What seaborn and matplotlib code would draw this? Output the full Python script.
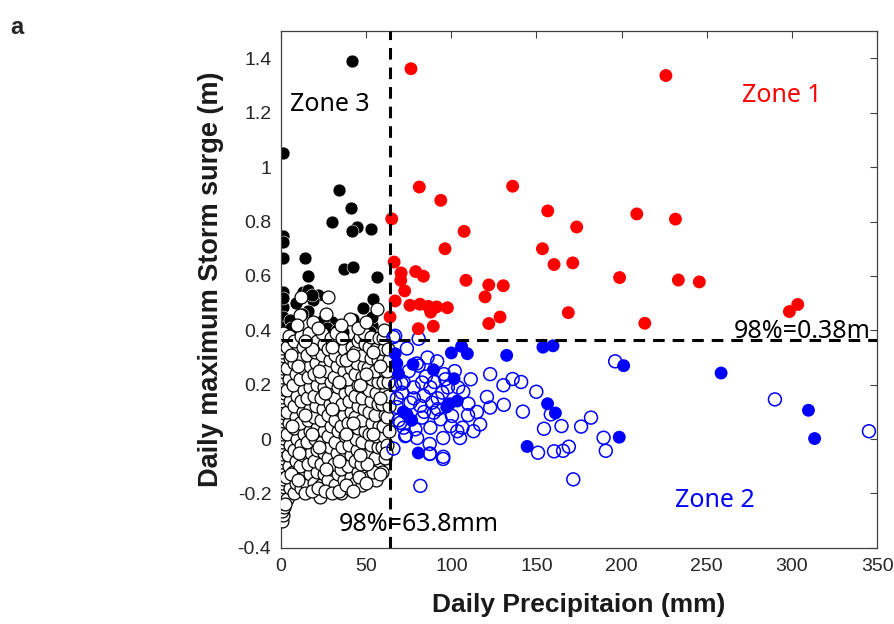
import matplotlib
matplotlib.use('Agg')
import matplotlib.pyplot as plt
import pandas as pd
import seaborn as sns
from matplotlib.ticker import FuncFormatter

# 98th percentile thresholds (as drawn)
precip_thr = 63.8
surge_thr = 0.365

# Zone 1: both above threshold (red, filled)
zone1_pts = [
    (76.3, 1.362), (226.0, 1.337), (81.2, 0.927), (93.8, 0.878), (136.0, 0.930),
    (65.0, 0.810), (107.5, 0.764), (156.6, 0.839), (173.6, 0.780), (208.9, 0.828),
    (231.6, 0.809), (96.3, 0.700), (153.5, 0.700), (66.4, 0.651), (70.5, 0.611),
    (79.1, 0.616), (83.6, 0.599), (160.3, 0.642), (171.3, 0.648), (70.3, 0.584),
    (108.6, 0.584), (198.8, 0.594), (233.3, 0.585), (245.6, 0.578), (72.6, 0.545),
    (122.0, 0.567), (130.5, 0.564), (119.8, 0.523), (67.0, 0.508), (75.7, 0.492),
    (81.6, 0.496), (86.5, 0.488), (91.4, 0.486), (97.7, 0.483), (87.9, 0.467),
    (64.0, 0.449), (168.7, 0.465), (128.6, 0.449), (122.0, 0.425), (80.6, 0.406),
    (89.4, 0.415), (213.6, 0.426), (298.5, 0.469), (303.4, 0.495),
]

# Zone 3: high surge, low rain (black, filled)
zone3_pts = [
    (41.5, 1.390), (1.0, 1.052), (34.3, 0.915), (41.1, 0.850), (29.8, 0.800),
    (44.4, 0.780), (41.5, 0.765), (52.8, 0.774), (1.0, 0.746), (1.0, 0.725),
    (1.4, 0.667), (14.1, 0.667), (15.7, 0.600), (37.0, 0.627), (42.5, 0.633),
    (56.2, 0.596), (1.4, 0.541), (13.1, 0.541), (16.0, 0.550), (21.9, 0.529),
    (19.0, 0.510), (1.4, 0.486), (53.8, 0.517), (48.0, 0.483), (1.4, 0.449),
    (29.8, 0.431), (36.2, 0.394), (53.2, 0.418), (16.0, 0.470), (12.2, 0.460),
    (24.8, 0.437), (42.5, 0.443), (1.4, 0.412), (52.0, 0.394), (5.3, 0.437),
    (1.4, 0.520), (18.0, 0.530), (9.0, 0.500), (6.0, 0.410), (27.0, 0.410),
    (33.0, 0.400), (53.4, 0.449),
]

# Zone 2: heavy rain, low surge (blue, filled)
zone2_pts = [
    (67.0, 0.314), (68.0, 0.278), (69.0, 0.240), (77.5, 0.275), (89.5, 0.255),
    (100.0, 0.317), (106.0, 0.341), (109.4, 0.314), (132.5, 0.308), (153.8, 0.338),
    (159.7, 0.343), (101.6, 0.222), (103.5, 0.140), (97.3, 0.118), (71.8, 0.100),
    (76.7, 0.069), (80.6, -0.051), (144.5, -0.027), (156.5, 0.130), (161.1, 0.096),
    (201.2, 0.270), (258.4, 0.243), (309.7, 0.106), (313.3, 0.002), (198.6, 0.007),
    (74.0, 0.090), (99.0, 0.130),
]

# heavy rain days without surge event (blue, open)
rain_open_pts = [
    (66.0, 0.375), (80.8, 0.369), (73.9, 0.333), (91.7, 0.286), (80.8, 0.270),
    (82.8, 0.208), (95.6, 0.239), (96.5, 0.220), (87.7, 0.190), (77.9, 0.190),
    (72.0, 0.210), (71.0, 0.171), (83.8, 0.159), (94.7, 0.171), (88.7, 0.134),
    (81.8, 0.122), (76.0, 0.134), (89.7, 0.097), (82.8, 0.079), (93.7, 0.073),
    (100.4, 0.085), (99.6, 0.048), (87.7, 0.042), (78.9, 0.036), (72.0, 0.042),
    (72.9, 0.011), (66.0, -0.035), (79.9, 0.004), (95.2, 0.004), (87.3, -0.018),
    (87.3, -0.055), (95.2, -0.073), (81.8, -0.172), (103.5, 0.029), (106.5, 0.042),
    (105.1, 0.004), (113.0, 0.029), (116.9, 0.054), (109.8, 0.088), (107.0, 0.174),
    (111.4, 0.220), (122.8, 0.239), (120.9, 0.155), (122.8, 0.116), (130.6, 0.198),
    (130.8, 0.126), (136.0, 0.221), (141.0, 0.210), (142.0, 0.101), (149.9, 0.174),
    (158.4, 0.091), (154.4, 0.038), (164.7, 0.048), (176.2, 0.046), (182.0, 0.079),
    (189.4, 0.005), (190.7, -0.043), (169.0, -0.028), (165.6, -0.043), (160.3, -0.045),
    (150.9, -0.050), (171.6, -0.148), (196.2, 0.286), (290.0, 0.146), (345.2, 0.029),
    (68.0, 0.150), (70.0, 0.060), (75.0, 0.250), (85.0, 0.230), (92.0, 0.150),
    (86.0, 0.300), (98.0, 0.190), (102.0, 0.250), (90.0, 0.210), (67.0, 0.200),
    (84.0, 0.100), (78.0, 0.150), (92.0, 0.110), (104.0, 0.190), (110.0, 0.130),
    (115.0, 0.100), (67.0, 0.380), (79.7, 0.278), (70.9, 0.204), (73.4, 0.014),
    (95.3, -0.065), (87.5, -0.053), (68.0, 0.118), (69.0, 0.069),
]

# ordinary days (white, open)
calm_pts = [
    (0.6, -0.30), (1.2, -0.28), (0.4, -0.265), (1.5, -0.25), (0.8, -0.235), (0.3, -0.22),
    (1.4, -0.205), (0.7, -0.19), (1.6, -0.175), (0.5, -0.16), (1.1, -0.145), (0.4, -0.13),
    (1.5, -0.115), (0.8, -0.10), (0.3, -0.085), (1.3, -0.07), (0.6, -0.055), (1.7, -0.04),
    (0.9, -0.025), (0.4, -0.01), (1.4, 0.005), (0.7, 0.02), (1.6, 0.035), (0.5, 0.05),
    (1.2, 0.065), (0.3, 0.08), (1.5, 0.095), (0.8, 0.11), (0.4, 0.125), (1.3, 0.14),
    (0.6, 0.155), (1.7, 0.17), (0.9, 0.185), (0.4, 0.20), (1.4, 0.215), (0.7, 0.23),
    (1.6, 0.245), (0.5, 0.26), (1.2, 0.275), (0.3, 0.29), (1.5, 0.305), (0.8, 0.32),
    (0.4, 0.335), (1.3, 0.35), (0.6, 0.37), (1.0, 0.39),
    (3.5, -0.22), (5.0, -0.18), (3.2, -0.14), (4.8, -0.10), (3.8, -0.06), (5.3, -0.02),
    (3.4, 0.02), (4.6, 0.06), (3.6, 0.10), (5.2, 0.14), (3.3, 0.18), (4.9, 0.22),
    (3.7, 0.26), (5.1, 0.30), (3.5, 0.34), (4.4, 0.38),
    (7.5, -0.20), (9.0, -0.16), (7.2, -0.12), (8.8, -0.08), (7.6, -0.04), (9.3, 0.00),
    (7.4, 0.04), (8.9, 0.08), (7.8, 0.12), (9.2, 0.16), (7.3, 0.20), (8.7, 0.24),
    (7.7, 0.28), (9.1, 0.32), (7.5, 0.36),
    (11.5, -0.18), (13.2, -0.14), (11.3, -0.10), (12.9, -0.06), (11.8, -0.02), (13.4, 0.02),
    (11.4, 0.06), (12.8, 0.10), (11.7, 0.14), (13.3, 0.18), (11.2, 0.22), (12.7, 0.26),
    (11.6, 0.30), (13.1, 0.34), (11.9, 0.38), (11.2, 0.455), (11.7, 0.523),
    (15.4, -0.17), (17.1, -0.13), (15.8, -0.09), (17.4, -0.05), (15.2, -0.01), (16.9, 0.03),
    (15.6, 0.07), (17.3, 0.11), (15.3, 0.15), (16.8, 0.19), (15.7, 0.23), (17.2, 0.27),
    (15.5, 0.31), (17.0, 0.35), (16.2, 0.39),
    (23.0, -0.213), (19.5, -0.16), (21.2, -0.12), (19.3, -0.08), (20.9, -0.04), (19.7, 0.00),
    (21.4, 0.04), (19.2, 0.08), (20.8, 0.12), (19.6, 0.16), (21.3, 0.20), (19.4, 0.24),
    (20.7, 0.28), (19.8, 0.32), (21.1, 0.36), (19.0, 0.43),
    (23.6, -0.17), (25.3, -0.13), (23.4, -0.09), (25.0, -0.05), (23.8, -0.01), (25.4, 0.03),
    (23.3, 0.07), (24.9, 0.11), (23.7, 0.15), (25.2, 0.19), (23.5, 0.23), (25.1, 0.27),
    (23.9, 0.31), (25.5, 0.35), (24.2, 0.39),
    (27.5, -0.15), (29.2, -0.11), (27.3, -0.07), (28.9, -0.03), (27.7, 0.01), (29.4, 0.05),
    (27.4, 0.09), (29.0, 0.13), (27.8, 0.17), (29.3, 0.21), (27.2, 0.25), (28.8, 0.29),
    (27.6, 0.33), (29.1, 0.37), (26.6, 0.46), (27.8, 0.523),
    (31.6, -0.17), (33.4, -0.13), (31.2, -0.09), (32.9, -0.05), (31.8, -0.01), (33.3, 0.03),
    (31.4, 0.07), (33.0, 0.11), (31.7, 0.15), (33.5, 0.19), (31.3, 0.23), (32.8, 0.27),
    (31.9, 0.31), (33.2, 0.35), (32.0, 0.39),
    (35.5, -0.20), (37.2, -0.15), (35.3, -0.11), (36.9, -0.07), (35.8, -0.03), (37.4, 0.01),
    (35.4, 0.05), (37.0, 0.09), (35.7, 0.13), (37.3, 0.17), (35.2, 0.21), (36.8, 0.25),
    (35.6, 0.29), (37.1, 0.33), (36.0, 0.37),
    (39.6, -0.18), (41.3, -0.14), (39.2, -0.10), (40.9, -0.06), (39.8, -0.02), (41.4, 0.02),
    (39.4, 0.06), (41.0, 0.10), (39.7, 0.14), (41.2, 0.18), (39.3, 0.22), (40.8, 0.26),
    (39.9, 0.30), (41.5, 0.34), (40.5, 0.443),
    (43.5, -0.16), (45.2, -0.12), (43.3, -0.08), (44.9, -0.04), (43.8, 0.00), (45.4, 0.04),
    (43.4, 0.08), (45.0, 0.12), (43.7, 0.16), (45.3, 0.20), (43.2, 0.24), (44.8, 0.28),
    (43.6, 0.32), (45.1, 0.36), (46.4, 0.376),
    (47.6, -0.17), (49.3, -0.13), (47.2, -0.09), (48.9, -0.05), (47.8, -0.01), (49.4, 0.03),
    (47.4, 0.07), (49.0, 0.11), (47.7, 0.15), (49.2, 0.19), (47.3, 0.23), (48.8, 0.27),
    (47.9, 0.31), (49.5, 0.35), (48.5, 0.39),
    (51.5, -0.14), (53.2, -0.10), (51.3, -0.06), (52.9, -0.02), (51.8, 0.02), (53.4, 0.06),
    (51.4, 0.10), (53.0, 0.14), (51.7, 0.18), (53.3, 0.22), (51.2, 0.26), (52.8, 0.30),
    (51.6, 0.34), (53.1, 0.375),
    (55.6, -0.15), (57.3, -0.11), (55.2, -0.07), (56.9, -0.03), (55.8, 0.01), (57.4, 0.05),
    (55.4, 0.09), (57.0, 0.13), (55.7, 0.17), (57.2, 0.21), (55.3, 0.25), (56.8, 0.29),
    (55.9, 0.33), (57.5, 0.37), (56.2, 0.48),
    (59.5, -0.12), (60.8, -0.07), (59.3, -0.03), (60.6, 0.01), (59.7, 0.05), (61.0, 0.09),
    (59.4, 0.13), (60.9, 0.17), (59.8, 0.21), (61.2, 0.25), (59.6, 0.29), (60.7, 0.33),
    (59.9, 0.37),
    (62.5, -0.02), (63.2, 0.03), (62.3, 0.08), (63.4, 0.12), (62.7, 0.16), (63.1, 0.21),
    (62.4, 0.25), (63.3, 0.29), (62.8, 0.33),
    # scattered in between
    (2.5, -0.24), (6.0, -0.13), (10.0, -0.15), (14.0, -0.20), (18.0, -0.19), (22.0, -0.18),
    (26.0, -0.19), (30.0, -0.20), (34.0, -0.19), (38.0, -0.17), (42.0, -0.19), (46.0, -0.14),
    (50.0, -0.16), (54.0, -0.12), (58.0, -0.13),
    (6.2, 0.05), (10.1, 0.27), (14.2, 0.09), (18.1, 0.33), (22.3, -0.03), (26.1, 0.17),
    (30.2, 0.11), (34.1, -0.08), (38.3, 0.29), (42.2, 0.06), (46.1, 0.20), (50.3, -0.09),
    (54.2, 0.32), (58.1, 0.15), (61.8, -0.05),
    (6.1, 0.31), (10.3, -0.05), (14.1, 0.36), (18.3, 0.02), (22.1, 0.25), (26.3, -0.11),
    (30.1, 0.34), (34.3, 0.21), (38.1, 0.02), (42.3, 0.31), (46.3, -0.06), (50.1, 0.24),
    (54.1, 0.02), (58.3, 0.27),
    (9.5, 0.42), (22.0, 0.41), (35.0, 0.42), (45.0, 0.41), (50.0, 0.43), (60.5, 0.40),
]

y_ticks = [-0.4, -0.2, 0, 0.2, 0.4, 0.6, 0.8, 1.0, 1.2, 1.4]
x_ticks = [0, 50, 100, 150, 200, 250, 300, 350]


def to_df(pts):
    return pd.DataFrame(pts, columns=['precip', 'surge'])


sns.set_theme(style='white')
plt.rcParams['font.family'] = ['Liberation Sans', 'DejaVu Sans']
plt.rcParams['axes.unicode_minus'] = False

fig = plt.figure(figsize=(8.95, 6.24), dpi=100)
ax = fig.add_axes([0.314, 0.122, 0.666, 0.828])

dot = 86
sns.scatterplot(data=to_df(zone3_pts), x='precip', y='surge', color='black',
                edgecolor='white', linewidth=0.4, s=dot, ax=ax, zorder=2)
sns.scatterplot(data=to_df(calm_pts), x='precip', y='surge', color='white',
                edgecolor='black', linewidth=0.9, s=dot, ax=ax, zorder=3)
sns.scatterplot(data=to_df(rain_open_pts), x='precip', y='surge', color='blue',
                edgecolor='blue', linewidth=1.1, s=dot, ax=ax, zorder=3)
ax.collections[-1].set_facecolor('none')
sns.scatterplot(data=to_df(zone2_pts), x='precip', y='surge', color='blue',
                edgecolor='none', s=dot, ax=ax, zorder=4)
sns.scatterplot(data=to_df(zone1_pts), x='precip', y='surge', color='red',
                edgecolor='none', s=dot, ax=ax, zorder=4)

# threshold lines
ax.axvline(precip_thr, color='black', lw=2.2, ls=(0, (3.8, 2.6)), zorder=5)
ax.axhline(surge_thr, color='black', lw=2.2, ls=(0, (3.8, 2.6)), zorder=5)

ax.set_xlim(0, 350)
ax.set_ylim(-0.4, 1.5)
ax.set_xticks(x_ticks)
ax.set_yticks(y_ticks)
ax.yaxis.set_major_formatter(FuncFormatter(lambda v, p: f'{v:g}'))
ax.tick_params(direction='in', length=5, width=0.8, top=True, right=True,
               labelsize=14, color='#404040', labelcolor='#262626', pad=7)
for sp in ax.spines.values():
    sp.set_color('#404040')
    sp.set_linewidth(0.9)

ax.set_xlabel('Daily Precipitaion (mm)', fontsize=19, fontweight='bold', color='#1a1a1a')
ax.set_ylabel('Daily maximum Storm surge (m)', fontsize=19.5, fontweight='bold', color='#1a1a1a')
ax.xaxis.set_label_coords(0.5, -0.088)
ax.yaxis.set_label_coords(-0.096, 0.52)

note = dict(fontsize=18, family=['Noto Sans', 'DejaVu Sans'], zorder=6)
ax.text(5.3, 1.231, 'Zone 3', color='black', ha='left', va='center', **note)
ax.text(294, 1.264, 'Zone 1', color='red', ha='center', va='center', **note)
ax.text(255, -0.224, 'Zone 2', color='blue', ha='center', va='center', **note)
ax.text(346, 0.397, '98%=0.38m', color='black', ha='right', va='center', **note)
ax.text(81, -0.313, '98%=63.8mm', color='black', ha='center', va='center', **note)

fig.text(0.012, 0.975, 'a', fontsize=17, fontweight='bold', ha='left', va='top')

fig.savefig('out.png', dpi=100)
